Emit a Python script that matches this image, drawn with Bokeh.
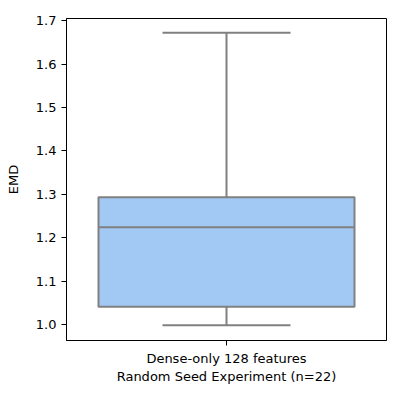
from bokeh.plotting import figure
from bokeh.models import Range1d, FixedTicker
from bokeh.embed import file_html
from bokeh.resources import INLINE

category = "Dense-only 128 features"
subtitle = "Random Seed Experiment (n=22)"
whisker_low = [0.998]
q1 = [1.041]
median = [1.224]
q3 = [1.293]
whisker_high = [1.672]
xpos = [0.0]

p = figure(width=392, height=392, output_backend="svg", toolbar_location=None,
           min_border_left=66, min_border_right=6, min_border_top=18, min_border_bottom=52)
p.x_range = Range1d(-0.5, 0.5)
p.y_range = Range1d(0.963, 1.705)
p.xgrid.grid_line_color = None
p.ygrid.grid_line_color = None
p.outline_line_color = "black"
p.outline_line_width = 1

gray = "#808080"
lft = [x - 0.4 for x in xpos]
rgt = [x + 0.4 for x in xpos]
cl = [x - 0.2 for x in xpos]
cr = [x + 0.2 for x in xpos]
p.segment(xpos, q3, xpos, whisker_high, line_color=gray, line_width=2)
p.segment(xpos, whisker_low, xpos, q1, line_color=gray, line_width=2)
p.segment(cl, whisker_high, cr, whisker_high, line_color=gray, line_width=2)
p.segment(cl, whisker_low, cr, whisker_low, line_color=gray, line_width=2)
p.quad(left=lft, right=rgt, bottom=q1, top=q3, fill_color="#a1c9f4",
       line_color=gray, line_width=2)
p.segment(lft, median, rgt, median, line_color=gray, line_width=2)

p.xaxis.ticker = FixedTicker(ticks=xpos)
p.xaxis.major_label_overrides = {0: category}
p.xaxis.axis_label = subtitle
p.xaxis.axis_label_standoff = 0
p.xaxis.axis_label_text_font_style = "normal"
p.yaxis.axis_label = "EMD"
p.yaxis.axis_label_standoff = 12
p.yaxis.axis_label_text_font_style = "normal"
p.yaxis.ticker = FixedTicker(ticks=[1.0, 1.1, 1.2, 1.3, 1.4, 1.5, 1.6, 1.7])
p.yaxis.minor_tick_line_color = None
for ax in (p.xaxis, p.yaxis):
    ax.major_label_text_font_size = "13px"
    ax.axis_label_text_font_size = "13px"
    ax.major_label_text_color = "black"
    ax.axis_label_text_color = "black"
    ax.major_tick_out = 5
    ax.major_tick_in = 0
    ax.axis_line_color = "black"
    ax.major_label_text_font = "DejaVu Sans"
    ax.axis_label_text_font = "DejaVu Sans"
p.yaxis.major_label_overrides = {v: f"{v:.1f}" for v in [1.0, 1.1, 1.2, 1.3, 1.4, 1.5, 1.6, 1.7]}

open("out.html", "w").write(file_html(p, INLINE))
